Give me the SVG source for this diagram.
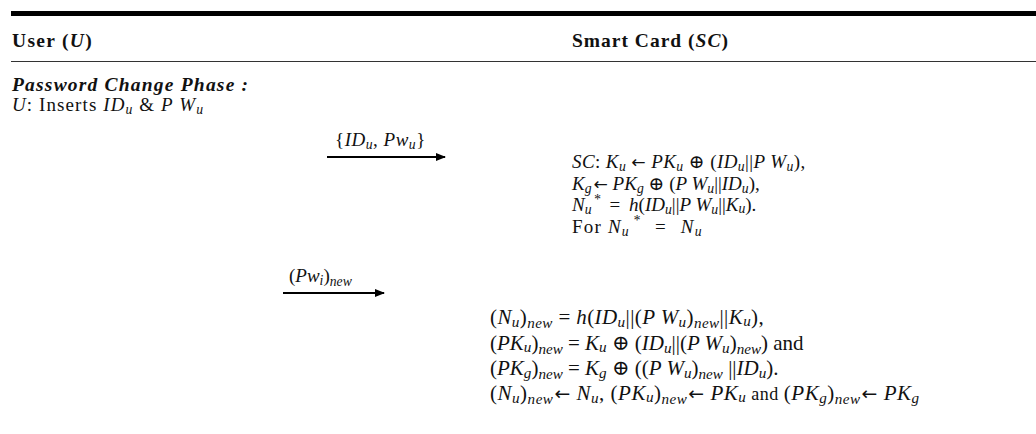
<svg xmlns="http://www.w3.org/2000/svg" width="1036" height="434" viewBox="0 0 1036 434">
  <defs>
    <marker id="arrowhead" viewBox="0 0 10 10" refX="9" refY="5" markerWidth="5" markerHeight="5" markerUnits="strokeWidth" orient="auto">
      <path d="M0,1 L10,5 L0,9 z" fill="#000"/>
    </marker>
    <style>
      text { font-family: "Liberation Serif", "DejaVu Serif", serif; fill: #111; }
      .hdr { font-size: 19.5px; font-weight: bold; }
      .phase { font-size: 19.5px; font-weight: bold; font-style: italic; letter-spacing: 1.2px; }
      .t { font-size: 19px; }
      .t2 { font-size: 21px; }
      .i { font-style: italic; }
      .sub { font-size: 72%; font-style: italic; }
      .arr { font-family: "DejaVu Sans", sans-serif; font-size: 90%; }
      .msg { stroke: #000; stroke-width: 2; fill: none; marker-end: url(#arrowhead); }
    </style>
  </defs>
  <rect width="1036" height="434" fill="#fff"/>

  <!-- table rules -->
  <g id="rules">
    <rect x="11" y="11" width="1025" height="5" fill="#000"/>
    <line x1="11" y1="61.5" x2="1036" y2="61.5" stroke="#333" stroke-width="1.2"/>
  </g>

  <!-- column headers -->
  <g id="header-user">
    <text class="hdr" x="12" y="47" letter-spacing="1.3">User (<tspan class="i">U</tspan>)</text>
  </g>
  <g id="header-sc">
    <text class="hdr" x="572" y="47" letter-spacing="1">Smart Card (<tspan class="i">SC</tspan>)</text>
  </g>

  <!-- user side -->
  <g id="user">
    <text class="phase" x="12" y="91">Password Change Phase :</text>
    <text class="t" x="12" y="111" letter-spacing="1.1"><tspan class="i">U</tspan>: Inserts <tspan class="i">ID</tspan><tspan class="sub" dy="3">u</tspan><tspan dy="-3"> &amp; </tspan><tspan class="i">P W</tspan><tspan class="sub" dy="3">u</tspan></text>
  </g>

  <!-- smart card verification -->
  <g id="sc-verify">
    <text class="t" x="572" y="168" letter-spacing="0.4"><tspan class="i">SC</tspan>: <tspan class="i">K</tspan><tspan class="sub" dy="3">u</tspan><tspan dy="-3"> </tspan><tspan class="arr">←</tspan> <tspan class="i">PK</tspan><tspan class="sub" dy="3">u</tspan><tspan dy="-3"> ⊕ (</tspan><tspan class="i">ID</tspan><tspan class="sub" dy="3">u</tspan><tspan dy="-3">||</tspan><tspan class="i">P W</tspan><tspan class="sub" dy="3">u</tspan><tspan dy="-3">),</tspan></text>
    <text class="t" x="572" y="190"><tspan class="i">K</tspan><tspan class="sub" dy="3">g</tspan><tspan dy="-3" dx="2" class="arr">←</tspan> <tspan class="i">PK</tspan><tspan class="sub" dy="3">g</tspan><tspan dy="-3"> ⊕ (</tspan><tspan class="i">P W</tspan><tspan class="sub" dy="3">u</tspan><tspan dy="-3">||</tspan><tspan class="i">ID</tspan><tspan class="sub" dy="3">u</tspan><tspan dy="-3">),</tspan></text>
    <text class="t" x="572" y="211"><tspan class="i">N</tspan><tspan class="sub" dy="3">u</tspan><tspan class="sub" dx="2" dy="-10">*</tspan><tspan dy="7" dx="9">=</tspan><tspan dx="9" class="i">h</tspan>(<tspan class="i">ID</tspan><tspan class="sub" dy="3">u</tspan><tspan dy="-3">||</tspan><tspan class="i">P W</tspan><tspan class="sub" dy="3">u</tspan><tspan dy="-3">||</tspan><tspan class="i">K</tspan><tspan class="sub" dy="2">u</tspan><tspan dy="-2">).</tspan></text>
    <text class="t" x="572" y="233" letter-spacing="1.2">For <tspan class="i">N</tspan><tspan class="sub" dy="3">u</tspan><tspan class="sub" dx="3" dy="-11">*</tspan><tspan dy="8" dx="14">=</tspan><tspan dx="14" class="i">N</tspan><tspan class="sub" dy="3">u</tspan></text>
  </g>

  <!-- smart card update -->
  <g id="sc-update">
    <text class="t2" x="490" y="324" letter-spacing="0.4">(<tspan class="i">N</tspan><tspan class="sub" dy="3">u</tspan><tspan dy="-3">)</tspan><tspan class="sub" dy="4">new</tspan><tspan dy="-4"> = </tspan><tspan class="i">h</tspan>(<tspan class="i">ID</tspan><tspan class="sub" dy="3">u</tspan><tspan dy="-3">||(</tspan><tspan class="i">P W</tspan><tspan class="sub" dy="3">u</tspan><tspan dy="-3">)</tspan><tspan class="sub" dy="4">new</tspan><tspan dy="-4">||</tspan><tspan class="i">K</tspan><tspan class="sub" dy="2">u</tspan><tspan dy="-2">),</tspan></text>
    <text class="t2" x="490" y="350">(<tspan class="i">PK</tspan><tspan class="sub" dy="2">u</tspan><tspan dy="-2">)</tspan><tspan class="sub" dy="4">new</tspan><tspan dy="-4"> = </tspan><tspan class="i">K</tspan><tspan class="sub" dy="2">u</tspan><tspan dy="-2"> ⊕ (</tspan><tspan class="i">ID</tspan><tspan class="sub" dy="3">u</tspan><tspan dy="-3">||(</tspan><tspan class="i">P W</tspan><tspan class="sub" dy="3">u</tspan><tspan dy="-3">)</tspan><tspan class="sub" dy="4">new</tspan><tspan dy="-4">) and</tspan></text>
    <text class="t2" x="490" y="375">(<tspan class="i">PK</tspan><tspan class="sub" dy="3">g</tspan><tspan dy="-3">)</tspan><tspan class="sub" dy="4">new</tspan><tspan dy="-4"> = </tspan><tspan class="i">K</tspan><tspan class="sub" dy="3">g</tspan><tspan dy="-3"> ⊕ ((</tspan><tspan class="i">P W</tspan><tspan class="sub" dy="3">u</tspan><tspan dy="-3">)</tspan><tspan class="sub" dy="4">new</tspan><tspan dy="-4"> ||</tspan><tspan class="i">ID</tspan><tspan class="sub" dy="3">u</tspan><tspan dy="-3">).</tspan></text>
    <text class="t2" x="490" y="400" letter-spacing="0.5">(<tspan class="i">N</tspan><tspan class="sub" dy="3">u</tspan><tspan dy="-3">)</tspan><tspan class="sub" dy="4">new</tspan><tspan dy="-4" dx="1" class="arr">←</tspan> <tspan class="i">N</tspan><tspan class="sub" dy="3">u</tspan><tspan dy="-3">, (</tspan><tspan class="i">PK</tspan><tspan class="sub" dy="2">u</tspan><tspan dy="-2">)</tspan><tspan class="sub" dy="4">new</tspan><tspan dy="-4" dx="1" class="arr">←</tspan> <tspan class="i">PK</tspan><tspan class="sub" dy="2">u</tspan><tspan dy="-2" font-size="18px"> and </tspan>(<tspan class="i">PK</tspan><tspan class="sub" dy="3">g</tspan><tspan dy="-3">)</tspan><tspan class="sub" dy="4">new</tspan><tspan dy="-4" dx="1" class="arr">←</tspan> <tspan class="i">PK</tspan><tspan class="sub" dy="3">g</tspan></text>
  </g>

  <!-- messages from user to smart card -->
  <g id="connectors">
    <line class="msg" x1="327" y1="157" x2="445" y2="157"/>
    <text class="t" x="335" y="146" letter-spacing="0.5">{<tspan class="i">ID</tspan><tspan class="sub" dy="3">u</tspan><tspan dy="-3">, </tspan><tspan class="i">Pw</tspan><tspan class="sub" dy="3">u</tspan><tspan dy="-3">}</tspan></text>
    <line class="msg" x1="283" y1="293" x2="384" y2="293"/>
    <text class="t" x="289" y="282">(<tspan class="i">Pw</tspan><tspan class="sub" dy="3">i</tspan><tspan dy="-3">)</tspan><tspan class="sub" dy="4">new</tspan></text>
  </g>
</svg>
